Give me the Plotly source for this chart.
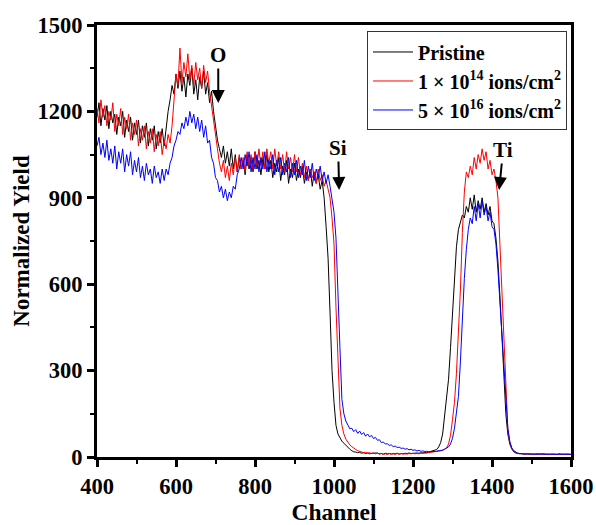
import plotly.graph_objects as go

# Channel grid (every 5 channels)
channel = list(range(400, 1601, 5))

pristine = [
    1180, 1230, 1150, 1210, 1170, 1220, 1140, 1200, 1160, 1190,
    1120, 1180, 1150, 1200, 1110, 1170, 1130, 1180, 1100, 1160,
    1120, 1170, 1090, 1150, 1110, 1160, 1080, 1140, 1100, 1150,
    1070, 1130, 1090, 1140, 1080, 1150, 1200, 1240, 1290, 1260,
    1330, 1280, 1340, 1270, 1320, 1250, 1330, 1290, 1350, 1260,
    1310, 1240, 1320, 1280, 1340, 1260, 1300, 1230, 1270, 1200,
    1150, 1100, 1070, 1040, 1080, 1020, 1060, 1010, 1070, 1000,
    1050, 990, 1040, 1000, 1030, 980, 1050, 1000, 1040, 990,
    1060, 1000, 1030, 980, 1040, 1000, 1050, 990, 1030, 970,
    1020, 990, 1040, 960, 1010, 980, 1030, 950, 1000, 970,
    1020, 960, 1000, 970, 1010, 950, 990, 960, 1000, 940,
    990, 950, 980, 930, 960, 900, 800, 690, 500, 300,
    190, 110, 80, 65, 55, 48, 40, 33, 27, 22,
    18, 17, 15, 16, 13, 15, 12, 14, 11, 13,
    13, 12, 14, 11, 12, 10, 13, 11, 12, 10,
    12, 11, 13, 10, 12, 11, 13, 12, 14, 12,
    13, 12, 14, 13, 15, 14, 16, 15, 17, 18,
    20, 22, 26, 35, 50, 80, 140, 190, 270, 380,
    510, 630, 730, 790, 820, 840, 830, 870, 850, 900,
    860, 910, 850, 890, 860, 900, 850, 880, 840, 870,
    820, 810, 760, 680, 560, 420, 300, 150, 80, 45,
    28, 18, 14, 12, 11, 12, 10, 11, 10, 11,
    10, 9, 11, 10, 9, 10, 11, 9, 10, 9,
    10, 9, 10, 9, 11, 9, 10, 9, 10, 9,
    9,
]

fluence_1e14 = [
    1210, 1160, 1240, 1180, 1220, 1150, 1200, 1170, 1230, 1130,
    1190, 1150, 1210, 1120, 1180, 1140, 1190, 1100, 1160, 1120,
    1170, 1080, 1140, 1100, 1150, 1070, 1130, 1090, 1140, 1060,
    1120, 1080, 1130, 1050, 1100, 1070, 1120, 1090, 1150, 1240,
    1330, 1290, 1420, 1300, 1370, 1320, 1400, 1310, 1360, 1290,
    1370, 1310, 1350, 1280, 1360, 1300, 1340, 1270, 1220, 1170,
    1110, 1060, 1020, 990, 1030, 970, 1010, 960, 1020, 980,
    1040, 990, 1050, 1000, 1040, 990, 1060, 1010, 1050, 1000,
    1060, 1010, 1070, 1010, 1060, 1000, 1070, 1020, 1060, 1000,
    1070, 1010, 1060, 1000, 1050, 990, 1060, 1000, 1040, 990,
    1050, 990, 1040, 980, 1020, 970, 1010, 960, 1000, 970,
    990, 950, 1000, 960, 980, 940, 960, 930, 900, 830,
    740, 520, 330, 170, 110, 80, 62, 50, 42, 36,
    30, 26, 22, 19, 17, 15, 16, 13, 15, 12,
    14, 11, 13, 10, 12, 9, 11, 9, 12, 10,
    11, 9, 12, 10, 12, 10, 11, 10, 12, 11,
    13, 11, 12, 11, 13, 12, 13, 14, 15, 16,
    16, 17, 18, 19, 21, 23, 27, 32, 45, 75,
    130, 190, 290, 420, 580, 780, 920, 990, 970, 1010,
    980, 1040, 1000, 1050, 1020, 1070, 1030, 1060, 1000, 1030,
    980, 1000, 960, 900, 740, 540, 360, 200, 100, 50,
    30, 20, 15, 13, 12, 11, 12, 10, 11, 10,
    11, 10, 9, 10, 11, 9, 10, 10, 9, 10,
    9, 10, 9, 10, 9, 10, 9, 10, 9, 10,
    9,
]

fluence_5e16 = [
    1080, 1110, 1050, 1090, 1040, 1100, 1030, 1070, 1020, 1080,
    1000, 1060, 1020, 1070, 990, 1050, 1010, 1060, 980, 1030,
    990, 1040, 970, 1010, 960, 1020, 980, 1000, 950, 1010,
    970, 990, 950, 1000, 960, 1000, 980, 1020, 1040, 1080,
    1100, 1130, 1120, 1160, 1140, 1180, 1150, 1200, 1160, 1190,
    1140, 1180, 1130, 1170, 1110, 1150, 1090, 1100, 1040, 1020,
    970, 960, 920, 940, 900, 930, 890, 920, 900, 940,
    930, 980, 1000, 1040, 1000, 1050, 1010, 1060, 990, 1040,
    1000, 1050, 990, 1040, 1000, 1060, 990, 1030, 1000, 1050,
    980, 1030, 990, 1040, 980, 1020, 990, 1040, 970, 1020,
    980, 1030, 970, 1010, 980, 1030, 960, 1010, 970, 1020,
    960, 1000, 970, 1010, 960, 990, 950, 980, 940, 900,
    850, 760, 600, 380, 200, 150, 125, 108, 98, 100,
    88, 95, 82, 90, 78, 85, 72, 80, 70, 75,
    64, 68, 58, 60, 50, 52, 45, 46, 40, 42,
    36, 38, 33, 34, 30, 31, 27, 29, 25, 27,
    23, 25, 21, 23, 20, 21, 19, 20, 18, 19,
    18, 19, 20, 21, 22, 24, 27, 30, 35, 45,
    65, 100, 150, 210, 330, 480, 620, 720, 790, 830,
    810, 870, 820, 880, 830, 890, 840, 870, 820, 850,
    800, 790, 740, 650, 540, 400, 280, 170, 100, 55,
    32, 22, 16, 13, 12, 11, 12, 10, 11, 10,
    10, 11, 9, 10, 9, 11, 10, 9, 10, 9,
    10, 9, 10, 9, 10, 9, 10, 9, 10, 9,
    9,
]

series_names = [
    "Pristine",
    "1 × 10<sup>14</sup> ions/cm<sup>2</sup>",
    "5 × 10<sup>16</sup> ions/cm<sup>2</sup>",
]
series_colors = ["#000000", "#ff0000", "#0000ff"]

x_ticks = [400, 600, 800, 1000, 1200, 1400, 1600]
y_ticks = [0, 300, 600, 900, 1200, 1500]

# Element edge markers: label, channel, yield at arrow tip
edge_labels = ["O", "Si", "Ti"]
edge_channels = [707, 1013, 1418]
edge_yields = [1229, 927, 927]

FONT = "Liberation Serif, Times New Roman, serif"

fig = go.Figure()
for name, ys, color in zip(series_names, [pristine, fluence_1e14, fluence_5e16], series_colors):
    fig.add_trace(go.Scatter(
        x=channel, y=ys, mode="lines", name=name,
        line=dict(color=color, width=1),
    ))

offsets = [(0, -48), (-1, -42), (4, -40)]
for lab, cx, cy, (ax, ay) in zip(edge_labels, edge_channels, edge_yields, offsets):
    fig.add_annotation(
        x=cx, y=cy, xref="x", yref="y", text=lab,
        showarrow=True, ax=ax, ay=ay, axref="pixel", ayref="pixel",
        arrowhead=2, arrowwidth=2, arrowsize=1.3, arrowcolor="black",
        standoff=0, startstandoff=0,
        font=dict(family=FONT, size=21, color="black", weight="bold"),
    )

axis_common = dict(
    showline=True, linewidth=3, linecolor="black", mirror=True,
    ticks="outside", ticklen=7, tickwidth=3, tickcolor="black",
    showgrid=False, zeroline=False, automargin=False,
    tickfont=dict(family=FONT, size=22.5, color="black", weight="bold"),
)

fig.update_layout(
    width=596, height=525,
    margin=dict(l=97, r=25, t=25, b=68),
    paper_bgcolor="white", plot_bgcolor="white",
    xaxis=dict(
        range=[400, 1600], tickvals=x_ticks,
        minor=dict(ticks="outside", ticklen=4, tickwidth=2, dtick=100, tick0=400, tickcolor="black"),
        title=dict(text="Channel", standoff=4,
                   font=dict(family=FONT, size=23.5, color="black", weight="bold")),
        **axis_common,
    ),
    yaxis=dict(
        range=[0, 1500], tickvals=y_ticks,
        minor=dict(ticks="outside", ticklen=4, tickwidth=2, dtick=150, tick0=0, tickcolor="black"),
        title=dict(text="Normalized Yield", standoff=2,
                   font=dict(family=FONT, size=23, color="black", weight="bold")),
        **axis_common,
    ),
    legend=dict(
        x=0.9916, y=0.985, xanchor="right", yanchor="top",
        bordercolor="#333333", borderwidth=1, bgcolor="white",
        font=dict(family=FONT, size=20, color="black", weight="bold"),
        itemwidth=40, tracegroupgap=0,
    ),
    showlegend=True,
)

fig.write_html("out.html", config={"displayModeBar": False},
               post_script="document.body.style.margin='0px';")
